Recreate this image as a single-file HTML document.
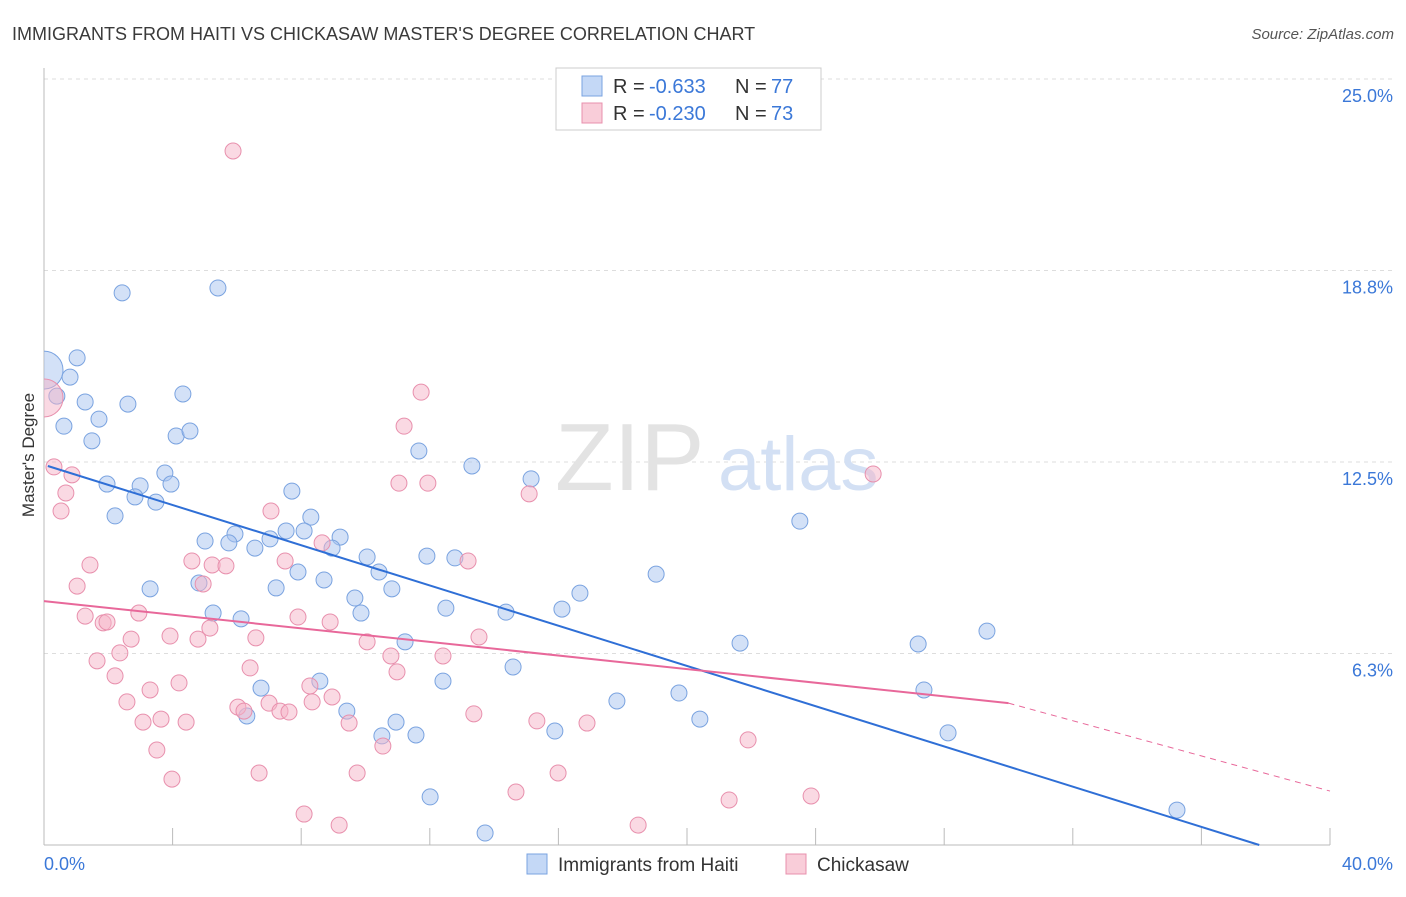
<!DOCTYPE html>
<html><head><meta charset="utf-8"><style>
body{margin:0;background:#fff;font-family:"Liberation Sans",sans-serif;}
svg text{font-family:"Liberation Sans",sans-serif;}
</style></head><body>
<svg id="c" width="1406" height="892" xmlns="http://www.w3.org/2000/svg">
<defs><clipPath id="plotclip"><rect x="44" y="60" width="1360" height="786"/></clipPath></defs>
<text x="12" y="40" font-size="18" fill="#3a3a3a">IMMIGRANTS FROM HAITI VS CHICKASAW MASTER'S DEGREE CORRELATION CHART</text>
<text x="1394" y="39" font-size="15" fill="#555" font-style="italic" text-anchor="end">Source: ZipAtlas.com</text>
<text x="34" y="455" font-size="17" fill="#333" text-anchor="middle" transform="rotate(-90 34 455)">Master's Degree</text>
<g id="grid"></g>
<g id="wm">
<text x="555" y="490" font-size="96" fill="#e3e3e3" font-family="Liberation Serif">ZIP</text>
<text x="718" y="490" font-size="76" fill="#d3e0f4">atlas</text>
</g>
<g id="axes"></g>
<g id="pts" clip-path="url(#plotclip)"></g>
<g id="lines"></g>
<g>
<rect x="556" y="68" width="265" height="62" fill="#fff" stroke="#ccc"/>
<rect x="582" y="76" width="20" height="20" fill="#c4d8f6" stroke="#7aa3e0"/>
<rect x="582" y="103" width="20" height="20" fill="#f9cdd9" stroke="#e890ad"/>
<text x="613" y="93" font-size="20" fill="#333">R =</text>
<text x="649" y="93" font-size="20" fill="#3b78d8">-0.633</text>
<text x="735" y="93" font-size="20" fill="#333">N =</text>
<text x="771" y="93" font-size="20" fill="#3b78d8">77</text>
<text x="613" y="120" font-size="20" fill="#333">R =</text>
<text x="649" y="120" font-size="20" fill="#3b78d8">-0.230</text>
<text x="735" y="120" font-size="20" fill="#333">N =</text>
<text x="771" y="120" font-size="20" fill="#3b78d8">73</text>
</g>
<g>
<rect x="527" y="854" width="20" height="20" fill="#c4d8f6" stroke="#7aa3e0"/>
<text x="558" y="871" font-size="19" fill="#333">Immigrants from Haiti</text>
<rect x="786" y="854" width="20" height="20" fill="#f9cdd9" stroke="#e890ad"/>
<text x="817" y="871" font-size="19" fill="#333">Chickasaw</text>
</g>
</svg>
<script>
const yTicks=[6.25,12.5,18.75,25];
const yTickLabels=["6.3%","12.5%","18.8%","25.0%"];
const xTickCount=10;
const xEndLabels=["0.0%","40.0%"];
const haitiX=[0.0,1.03,0.81,0.40,1.28,2.61,0.62,1.71,1.49,4.32,4.11,4.54,2.43,5.41,3.76,3.95,1.96,2.99,2.83,3.48,2.21,7.71,8.30,8.09,7.53,7.03,9.21,8.96,6.56,5.94,5.75,5.01,4.82,3.30,5.26,6.13,7.22,7.90,8.71,9.67,9.86,10.05,10.42,10.82,11.66,13.31,15.15,11.91,12.78,12.50,14.37,16.11,16.67,19.04,23.51,11.23,14.59,12.41,8.58,6.75,9.42,6.31,10.95,10.51,11.57,15.89,17.82,19.75,21.65,20.40,27.19,29.33,27.37,28.12,12.01,13.72,35.24];
const haitiY=[15.5,15.9,15.27,14.65,14.46,14.39,13.67,13.9,13.19,14.72,13.35,13.51,18.02,18.18,12.14,11.78,11.78,11.72,11.36,11.19,10.74,11.55,10.7,10.25,10.25,9.99,10.05,9.69,9.69,10.15,9.86,9.92,8.55,8.36,7.57,7.38,8.39,8.91,8.65,8.06,7.57,9.40,8.91,8.36,12.86,12.37,11.95,9.43,9.37,7.73,7.60,7.70,8.22,8.84,10.57,6.63,5.81,5.35,5.35,5.12,4.37,4.21,4.01,3.56,3.59,3.72,4.70,4.96,6.59,4.11,6.56,6.98,5.06,3.66,1.57,0.39,1.14];
const chickX=[0.0,5.88,11.73,11.20,25.79,0.31,0.87,0.68,15.09,11.94,11.04,0.53,7.06,1.43,1.03,4.60,5.23,5.66,4.95,7.50,8.65,13.19,1.28,1.84,1.96,2.95,2.71,2.36,1.65,3.92,4.79,5.16,6.59,7.90,8.90,10.05,10.79,10.98,12.41,13.53,6.41,2.21,4.20,3.30,2.58,3.08,3.64,4.42,6.03,6.22,7.00,7.34,7.62,8.27,8.34,8.96,9.49,13.37,15.33,16.89,21.90,10.54,3.51,3.98,6.69,9.74,15.99,14.68,21.31,23.86,8.09,9.18,18.48];
const chickY=[14.59,22.65,14.78,13.67,12.11,12.34,12.08,11.49,11.46,11.81,11.81,10.90,10.90,9.14,8.45,9.27,9.14,9.11,8.52,9.27,9.86,9.27,7.47,7.25,7.28,7.57,6.72,6.27,6.01,6.82,6.72,7.08,6.76,7.44,7.28,6.63,6.17,5.65,6.17,6.79,5.78,5.52,5.29,5.06,4.67,4.01,4.11,4.01,4.50,4.37,4.63,4.37,4.34,5.19,4.67,4.83,3.98,4.28,4.05,3.98,3.43,3.23,3.10,2.15,2.35,2.35,2.35,1.73,1.47,1.60,1.01,0.65,0.65];
const haitiTrend=[[0.12,12.37],[37.8,0]];
const chickTrend=[[0,7.96],[30,4.63]];
const chickTrendExt=[[30,4.63],[40,1.76]];

const X0=44,X1=1330,Y0=845,PXPER=30.64;
const sx=v=>X0+(X1-X0)*v/40;
const sy=v=>Y0-v*PXPER;
const NS="http://www.w3.org/2000/svg";
function mk(tag,parent,attrs){const e=document.createElementNS(NS,tag);for(const k in attrs)e.setAttribute(k,attrs[k]);document.getElementById(parent).appendChild(e);return e;}
yTicks.forEach((t,i)=>{
 const g=mk('line','grid',{x1:X0,x2:1395,y1:sy(t),y2:sy(t),stroke:'#ddd','stroke-dasharray':'4,4'});
 
 
 const tx=mk('text','axes',{x:1393,y:sy(t)+23,'font-size':18,fill:'#3b78d8','text-anchor':'end'});
 tx.textContent=yTickLabels[i];
 
 
});
let a=mk('line','axes',{x1:X0,x2:X0,y1:68,y2:Y0,stroke:'#bbb'});


a=mk('line','axes',{x1:X0,x2:X1,y1:Y0,y2:Y0,stroke:'#bbb'});


for(let i=1;i<=xTickCount;i++){
 const t=mk('line','axes',{x1:sx(i*4),x2:sx(i*4),y1:Y0,y2:Y0-17,stroke:'#bbb'});
 
 
}
let l=mk('text','axes',{x:44,y:870,'font-size':18,fill:'#3b78d8'});l.textContent=xEndLabels[0];


l=mk('text','axes',{x:1393,y:870,'font-size':18,fill:'#3b78d8','text-anchor':'end'});l.textContent=xEndLabels[1];


function pts(xs,ys,fill,stroke,name){
 xs.forEach((x,i)=>{
  const r=(i===0)?19:8;
  const c=mk('circle','pts',{cx:sx(x),cy:sy(ys[i]),r:r,fill:fill,stroke:stroke,'stroke-width':1});
  
  
 });
}
pts(haitiX,haitiY,'rgba(168,196,240,0.5)','#7aa3e0','point-haiti');
pts(chickX,chickY,'rgba(245,180,200,0.5)','#e890ad','point-chickasaw');
function ln(p,stroke,w,dash,name){
 const e=mk('line','lines',{x1:sx(p[0][0]),y1:sy(p[0][1]),x2:sx(p[1][0]),y2:sy(p[1][1]),stroke:stroke,'stroke-width':w});
 if(dash)e.setAttribute('stroke-dasharray',dash);
 
 
}
ln(haitiTrend,'#2f6fd6',2,null,'trend-line-haiti');
ln(chickTrend,'#e8689a',2,null,'trend-line-chickasaw');
ln(chickTrendExt,'#e8689a',1,'6,5','trend-line-chickasaw-extension');
</script>
</body></html>
